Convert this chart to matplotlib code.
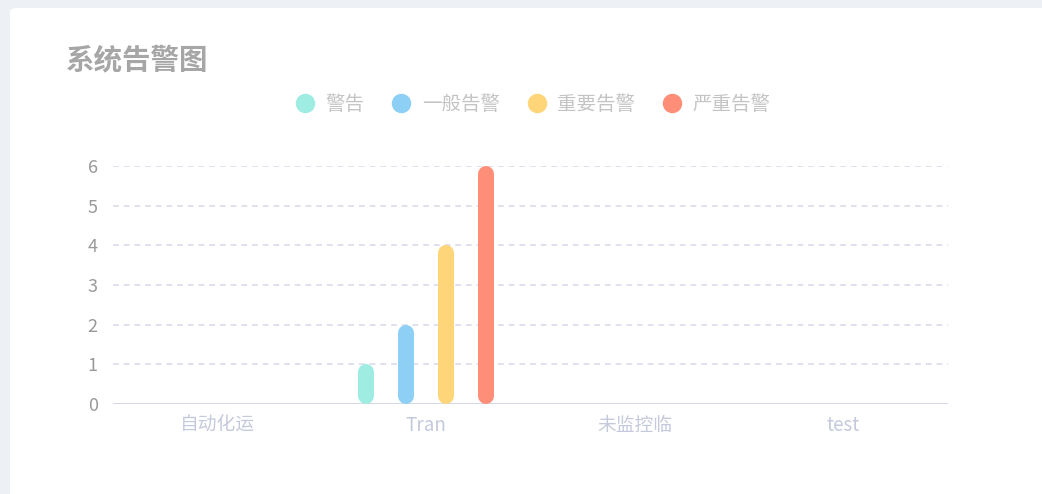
import matplotlib
matplotlib.use("Agg")
import matplotlib.pyplot as plt
from matplotlib.patches import FancyBboxPatch
from matplotlib.lines import Line2D
import numpy as np

plt.rcParams['font.family'] = ['Noto Sans CJK SC', 'DejaVu Sans']

# data
categories = ['自动化运', 'Tran', '未监控临', 'test']
series_names = ['警告', '一般告警', '重要告警', '严重告警']
warn = [0, 1, 0, 0]
normal = [0, 2, 0, 0]
important = [0, 4, 0, 0]
critical = [0, 6, 0, 0]
series_values = [warn, normal, important, critical]
colors = ['#9eece2', '#8dcff5', '#ffd57a', '#ff8e79']
yticks = [0, 1, 2, 3, 4, 5, 6]

W, H = 1042, 494
fig = plt.figure(figsize=(W / 100, H / 100), dpi=100)
fig.patch.set_facecolor('#edf1f5')

# white card
card = FancyBboxPatch((10 / W, -0.05), 1.1, 1 - 8 / H + 0.05,
                      boxstyle="round,pad=0,rounding_size=0.008",
                      transform=fig.transFigure, facecolor='white',
                      edgecolor='none', zorder=-10)
fig.patches.append(card)

ax = fig.add_axes([113 / W, 90 / H, 835 / W, 238 / H])
ax.set_facecolor('none')
ax.set_xlim(-0.5, len(categories) - 0.5)
ax.set_ylim(0, 6)

# grid + axis line
for y in yticks[1:]:
    ax.axhline(y, color='#d6dae9', lw=1.1, dashes=(3.8, 3.2), zorder=1)
ax.axhline(0, color='#d3d7e7', lw=1.4, zorder=2)

# rounded bars
bar_px = 16
lw_pt = bar_px * 72 / 100
px_per_unit = 238 / 6
r = (bar_px / 2) / px_per_unit
step = 0.1916
x = np.arange(len(categories))
for i, (vals, c) in enumerate(zip(series_values, colors)):
    xs = x + (i - 1.5) * step
    for xi, v in zip(xs, vals):
        if v > 0:
            ax.plot([xi, xi], [r, v - r], color=c, lw=lw_pt,
                    solid_capstyle='round', zorder=3)

for s in ax.spines.values():
    s.set_visible(False)
ax.set_yticks(yticks)
ax.set_yticklabels([str(t) for t in yticks])
ax.set_xticks(x)
ax.set_xticklabels(categories)
ax.tick_params(axis='y', length=0, pad=11, labelsize=13, labelcolor='#999999')
ax.tick_params(axis='x', length=0, pad=8, labelsize=13.5, labelcolor='#c5c9dc')

# title
fig.text(66 / W, 1 - 60 / H, '系统告警图', fontsize=20.5, fontweight='bold',
         color='#a6a6a6', va='center', ha='left')

# legend
handles = [Line2D([0], [0], marker='o', linestyle='none', markersize=13,
                  markerfacecolor=c, markeredgecolor=c) for c in colors]
fig.legend(handles, series_names, loc='center', ncol=4, frameon=False,
           bbox_to_anchor=(533 / W, 1 - 104 / H), fontsize=14,
           labelcolor='#c4c4c4', handlelength=1.0, handletextpad=0.55,
           columnspacing=1.4)

fig.savefig('out.png', dpi=100, facecolor=fig.get_facecolor())
